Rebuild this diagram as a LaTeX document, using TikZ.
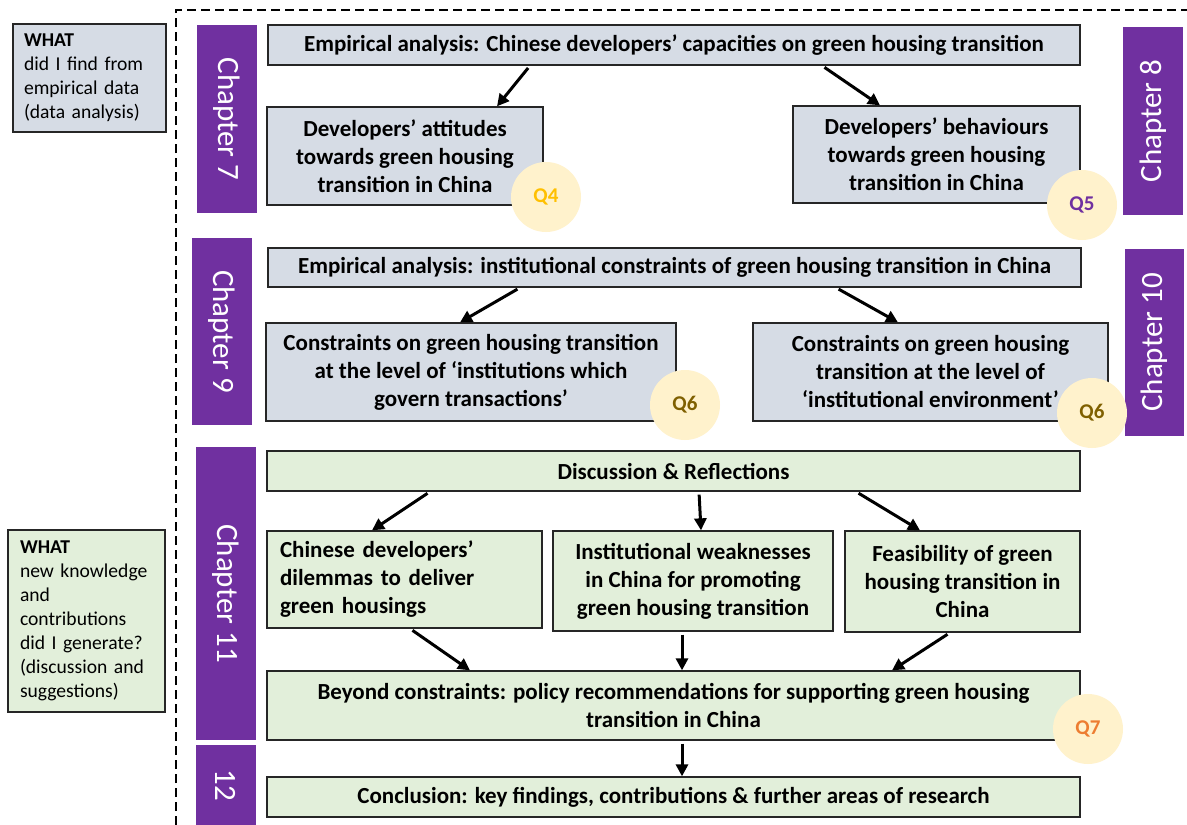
\documentclass[tikz,border=0pt]{standalone}
\usepackage{fontspec}
\setmainfont{Carlito}
\usetikzlibrary{arrows.meta}
\definecolor{purp}{HTML}{7030A0}
\definecolor{bluegray}{HTML}{D6DCE5}
\definecolor{lgreen}{HTML}{E2EFDA}
\definecolor{qfill}{HTML}{FFF2CC}
\definecolor{qfour}{HTML}{FFC000}
\definecolor{qsix}{HTML}{7F6000}
\definecolor{qseven}{HTML}{ED7D31}
\tikzset{
  box/.style={draw=black!85, line width=1.3pt, inner sep=2pt, align=center, font=\fontsize{23}{28}\selectfont\bfseries},
  bbox/.style={box, fill=bluegray},
  gbox/.style={box, fill=lgreen},
  sidebox/.style={draw=black!85, line width=1.3pt, inner ysep=2pt, align=left, font=\fontsize{19.6}{24}\selectfont},
  chap/.style={fill=purp, text=white, font=\fontsize{31}{32}\selectfont, inner sep=0pt},
  qc/.style={circle, fill=qfill, minimum size=70pt, inner sep=0pt, font=\fontsize{21}{22}\selectfont\bfseries},
  arr/.style={-{Triangle[length=12pt,width=12pt]}, line width=3pt, shorten <=3pt},
  frame/.style={line width=1.5pt, dash pattern=on 9pt off 5pt}
}
\begin{document}
\begin{tikzpicture}[x=1pt,y=-1pt]
\useasboundingbox (0,0) rectangle (1187,825);
\fill[white] (0,0) rectangle (1187,825);

% dashed frame
\draw[frame] (176,825) -- (176,10) -- (1187,10);

% side boxes
\node[sidebox, fill=bluegray, text width=131pt, inner xsep=11pt, minimum height=108pt] (w1) at (89.5,78)
  {\textbf{WHAT}\\did I find from\\empirical data\\(data analysis)};
\node[sidebox, fill=lgreen, text width=133pt, inner xsep=12pt, minimum height=182pt] (w2) at (86.5,621)
  {\textbf{WHAT}\\new knowledge\\and\\contributions\\did I generate?\\(discussion and\\suggestions)};

% chapter bars
\node[chap, rotate=-90, minimum width=188pt, minimum height=60pt] (c7) at (227,119) {Chapter 7};
\node[chap, rotate=90, minimum width=188pt, minimum height=60pt] (c8) at (1153,121) {Chapter 8};
\node[chap, rotate=-90, minimum width=187pt, minimum height=60pt] (c9) at (222,331.5) {Chapter 9};
\node[chap, rotate=90, minimum width=187pt, minimum height=59pt] (c10) at (1154.5,342.5) {Chapter 10};
\node[chap, rotate=-90, minimum width=293pt, minimum height=60pt] (c11) at (226,593.5) {Chapter 11};
\node[chap, rotate=-90, minimum width=80pt, minimum height=60pt] (c12) at (226,785) {12};

% boxes
\node[bbox, minimum width=812pt, minimum height=40pt] (E1) at (674,45)
  {Empirical analysis: Chinese developers’ capacities on green housing transition};
\node[bbox, minimum width=276pt, minimum height=98pt] (A) at (405,156)
  {Developers’ attitudes\\towards green housing\\transition in China};
\node[bbox, minimum width=287pt, minimum height=97pt] (B) at (936.5,154.5)
  {Developers’ behaviours\\towards green housing\\transition in China};
\node[bbox, minimum width=813pt, minimum height=39pt] (E2) at (674.5,267.5)
  {Empirical analysis: institutional constraints of green housing transition in China};
\node[bbox, minimum width=410pt, minimum height=98pt] (C) at (471,372)
  {Constraints on green housing transition\\at the level of ‘institutions which\\govern transactions’};
\node[bbox, minimum width=355pt, minimum height=98pt] (D) at (930.5,372)
  {Constraints on green housing\\transition at the level of\\‘institutional environment’};
\node[gbox, minimum width=813pt, minimum height=40pt] (Disc) at (673.5,471)
  {Discussion \& Reflections};
\node[gbox, minimum width=275pt, minimum height=97pt, text width=249pt, align=left, inner xsep=13pt] (F) at (404.5,579.5)
  {Chinese developers’\\dilemmas to deliver\\green housings};
\node[gbox, minimum width=280pt, minimum height=100pt] (G) at (693,581)
  {Institutional weaknesses\\in China for promoting\\green housing transition};
\node[gbox, minimum width=235pt, minimum height=101pt] (H) at (962.5,581.5)
  {Feasibility of green\\housing transition in\\China};
\node[gbox, minimum width=813pt, minimum height=69pt] (Bey) at (673.5,705.5)
  {Beyond constraints: policy recommendations for supporting green housing\\transition in China};
\node[gbox, minimum width=813pt, minimum height=40pt] (Con) at (673.5,797)
  {Conclusion: key findings, contributions \& further areas of research};

% question circles
\node[qc, text=qfour] (q4) at (546,197) {Q4};
\node[qc, text=purp] (q5) at (1082,205) {Q5};
\node[qc, text=qsix] (q6a) at (685,405) {Q6};
\node[qc, text=qsix] (q6b) at (1092,413) {Q6};
\node[qc, text=qseven] (q7) at (1088,729) {Q7};

% arrows
\draw[arr] ([xshift=-144pt]E1.south) -- ([xshift=92pt]A.north);
\draw[arr] ([xshift=148pt]E1.south) -- ([xshift=-56.5pt]B.north);
\draw[arr] ([xshift=-154.5pt]E2.south) -- ([xshift=-11pt]C.north);
\draw[arr] ([xshift=161.5pt]E2.south) -- ([xshift=-32.5pt]D.north);
\draw[arr] ([xshift=-243.5pt]Disc.south) -- ([xshift=-32.5pt]F.north);
\draw[arr] ([xshift=25.5pt]Disc.south) -- ([xshift=8pt]G.north);
\draw[arr] ([xshift=182.5pt]Disc.south) -- ([xshift=-42.5pt]H.north);
\draw[arr] ([xshift=5.5pt]F.south) -- ([xshift=-203.5pt]Bey.north);
\draw[arr] ([xshift=-11pt]G.south) -- ([xshift=8.5pt]Bey.north);
\draw[arr] ([xshift=-12.5pt]H.south) -- ([xshift=218.5pt]Bey.north);
\draw[arr] ([xshift=8.5pt]Bey.south) -- ([xshift=8.5pt]Con.north);
\end{tikzpicture}
\end{document}
